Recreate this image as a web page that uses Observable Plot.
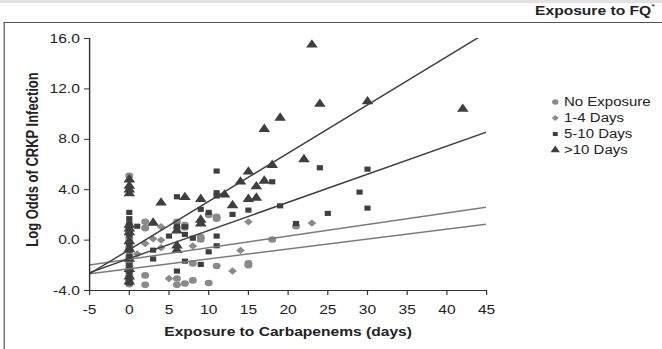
<!DOCTYPE html>
<html><head><meta charset="utf-8">
<script src="https://cdn.jsdelivr.net/npm/d3@7"></script>
<script src="https://cdn.jsdelivr.net/npm/@observablehq/plot@0.6"></script>
<style>
html,body{margin:0;padding:0;background:#fff;}
body{font-family:"Liberation Sans",Arial,sans-serif;}
#outer{position:relative;width:662px;height:349px;overflow:hidden;}
#topband{position:absolute;left:0;top:0;width:662px;height:3px;background:#e2e2e2;}
#chart{position:absolute;left:0;top:0;width:552px;height:349px;transform-origin:0 0;}
#chart svg{position:absolute;left:0;top:0;}
.frameL{position:absolute;background:#555;}
#title{position:absolute;top:3px;font-weight:bold;font-size:13px;color:#222;white-space:nowrap;}
#title sup{font-size:8px;font-weight:normal;vertical-align:top;position:relative;top:-1px;}
.leg{position:absolute;font-size:12.5px;color:#222;white-space:nowrap;line-height:14px;}
.leg svg{position:absolute;left:0;top:0;overflow:visible;}
</style></head><body>
<div id="outer"><div id="topband"></div><div id="chart"></div></div>
<script>
// ---- data ----
const seriesNames = ["No Exposure", "1-4 Days", "5-10 Days", ">10 Days"];

const noExpX = [0,0,0,0,0,0,0,0,0,0,0,0,0,0,0, 2,2,2,2, 6,6,6,6, 7,7,7, 8,8, 9,9, 10,10, 11,11,11, 15,15, 18, 21];
const noExpY = [5.1,1.2,0.9,0.5,0.2,-0.2,-0.6,-0.9,-1.4,-1.8,-2.2,-2.6,-3.0,-3.3,-3.5, 1.45,0.95,-2.8,-3.55, 1.45,1.0,-3.05,-3.55, 1.2,1.0,-3.45, -1.85,-3.2, 0.25,0.05, 2.0,-3.4, 1.85,1.7,-2.05, -1.85,-2.0, 0.05, 1.1];

const d14X = [0,0,0,0,0,0,0,0,0,0, 1, 2, 3, 4,4,4, 5, 8, 13, 14, 15, 23];
const d14Y = [1.0,0.7,0.0,-0.5,-1.2,-1.6,-2.0,-2.4,-2.8,-3.2, -1.1, -0.27, 0.1, 1.06,0.0,-0.6, -3.05, -0.47, -2.45, -0.82, 1.45, 1.35];

const d510X = [0,0,0,0,0,0,0,0,0,0,0, 1, 3,3, 5, 6,6,6, 7,7,7, 8, 9,9, 10,10, 11,11,11,11,11, 13, 15, 18, 19, 21, 24, 25, 29, 30,30];
const d510Y = [2.2,1.7,1.3,0.4,-0.3,-0.8,-1.3,-2.0,-2.5,-3.0,-3.4, 1.1, -0.8,-1.5, 0.32, 3.44,1.1,-2.46, 1.06,0.45,-1.67, 0.15, 2.44,-1.93, 2.2,-0.93, 5.48,3.76,3.5,0.32,-0.45, 2.04, 2.38, 4.63, 2.72, 1.32, 5.74, 2.12, 3.81, 5.63,2.54];

const d10X = [0,0,0,0,0,0,0,0,0,0,0,0,0, 3, 4, 6,6,6, 7, 9,9,9, 12, 13, 14, 15,15, 16,16, 17,17, 18, 19, 22, 23, 24, 30, 42];
const d10Y = [4.8,4.3,4.0,3.7,1.2,0.9,0.6,-0.1,-0.7,-1.5,-2.3,-2.9,-3.3, 1.37, 2.96, 0.75,-0.45,-0.8, 3.4, 3.25,1.6,1.3, 3.6, 2.75, 4.63, 5.42,3.25, 4.25,3.35, 8.8,4.7, 5.95, 9.7, 6.4, 15.5, 10.8, 11.0, 10.4];

// linear trend lines (intercept, slope)
const trendIntercepts = [-2.28, -1.52, -1.46, -0.76];
const trendSlopes = [0.0787, 0.092, 0.223, 0.383];
const trendRange = [-5, 45];

const xTicks = [-5, 0, 5, 10, 15, 20, 25, 30, 35, 40, 45];
const yTicks = [-4, 0, 4, 8, 12, 16];

// ---- styling ----
const symbols = ["circle", "diamond2", "square", "triangle"];
const fills = ["#8a8a8a", "#8a8a8a", "#3f3f3f", "#3f3f3f"];
const radii = [3.3, 3.3, 2.9, 3.6];
const lineColors = ["#7a7a7a", "#7a7a7a", "#3f3f3f", "#3f3f3f"];

const S = 662 / 552; // the reference is horizontally stretched
const W = 552, H = 349;

const toRows = (xs, ys, s) => xs.map((x, i) => ({x, y: ys[i], s}));
const seriesData = [
  toRows(noExpX, noExpY, 0),
  toRows(d14X, d14Y, 1),
  toRows(d510X, d510Y, 2),
  toRows(d10X, d10Y, 3)
];
const trendRows = trendIntercepts.flatMap((a, i) =>
  trendRange.map(x => ({x, y: a + trendSlopes[i] * x, s: i})));

const plot = Plot.plot({
  width: W, height: H,
  marginLeft: 89 / S, marginRight: W - 486 / S, marginTop: 38, marginBottom: 59,
  style: {fontFamily: "Liberation Sans, Arial, sans-serif", background: "transparent", color: "#222"},
  x: {domain: [-5, 45], axis: null},
  y: {domain: [-4, 16], axis: null},
  marks: [
    ...seriesData.map((rows, i) => Plot.dot(rows, {
      x: "x", y: "y", symbol: () => symbols[i], fill: fills[i], r: radii[i], stroke: "none"
    })),
    ...trendIntercepts.map((_, i) => Plot.line(trendRows.filter(d => d.s === i), {
      x: "x", y: "y", stroke: lineColors[i], strokeWidth: 1.4, clip: true
    })),
    Plot.ruleX([-5], {stroke: "#333", strokeWidth: 1.2}),
    Plot.ruleY([-4], {stroke: "#333", strokeWidth: 1.2}),
    Plot.axisY({ticks: yTicks, tickFormat: d => d.toFixed(1), tickSize: 5 / S, tickPadding: 4,
      fontSize: 13, stroke: "#333", label: null}),
    Plot.axisX({ticks: xTicks, tickFormat: d => String(d), tickSize: 5, tickPadding: 9,
      fontSize: 13, stroke: "#333", label: null}),
    Plot.text(["Exposure to Carbapenems (days)"], {frameAnchor: "bottom", dy: 41, fontWeight: "bold",
      fontSize: 13, fill: "#222", lineAnchor: "middle", textAnchor: "middle"}),
    Plot.text(["Log Odds of CRKP Infection"], {frameAnchor: "left", dx: -57 / S, dy: -5, rotate: -90,
      fontWeight: "bold", fontSize: 13, fill: "#222", lineAnchor: "middle", textAnchor: "middle"})
  ]
});

const chart = document.getElementById("chart");
chart.style.transform = `scaleX(${S})`;
chart.appendChild(plot);

// frame lines (left and top) of the figure box
const fl = document.createElement("div");
fl.className = "frameL";
fl.style.cssText = `left:${4 / S}px;top:22px;width:1px;height:340px;`;
chart.appendChild(fl);
const ft = document.createElement("div");
ft.className = "frameL";
ft.style.cssText = `left:${4 / S}px;top:22px;width:${W}px;height:1px;`;
chart.appendChild(ft);

// title
const title = document.createElement("div");
title.id = "title";
title.innerHTML = "Exposure to FQ<sup>*</sup>";
chart.appendChild(title);
title.style.left = (655 / S - title.offsetWidth) + "px";

// legend
const legTop = 102, legStep = 16;
seriesNames.forEach((name, i) => {
  const d = document.createElement("div");
  d.className = "leg";
  d.style.left = (555 / S - 5) + "px";
  d.style.top = (legTop + i * legStep - 7) + "px";
  const sym = d3.symbol().type([d3.symbolCircle, d3.symbolDiamond2, d3.symbolSquare, d3.symbolTriangle][i])
    .size(Math.PI * (radii[i] * 0.8) ** 2)();
  d.innerHTML = `<svg width="10" height="14"><path transform="translate(5,7)" d="${sym}" fill="${fills[i]}"/></svg>` +
    `<span style="padding-left:${(564 - 555) / S + 5}px">${name.replace(">", "&gt;")}</span>`;
  chart.appendChild(d);
});
</script>
</body></html>
